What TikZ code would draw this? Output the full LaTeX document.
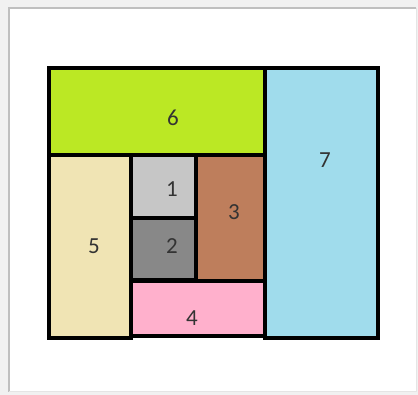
\documentclass[tikz,border=0pt]{standalone}
\usepackage{fontspec}
\setmainfont{Carlito}
\usepackage{tikz}
\definecolor{pgreen}{HTML}{BBE824}
\definecolor{pblue}{HTML}{A0DCEC}
\definecolor{psand}{HTML}{F0E4B4}
\definecolor{plight}{HTML}{C6C6C6}
\definecolor{pgrey}{HTML}{888888}
\definecolor{pbrown}{HTML}{BE7E5C}
\definecolor{ppink}{HTML}{FFB0CC}
\definecolor{pback}{HTML}{F1F1F1}
\tikzset{
  blk/.style={draw=black,line width=4pt,rectangle,anchor=north west,
              inner sep=0pt,outer sep=0pt},
  num/.style={font=\fontsize{23}{24}\selectfont,text=black!80,inner sep=0pt},
}
\begin{document}
\begin{tikzpicture}[x=1pt,y=-1pt]
  \useasboundingbox (0,0) rectangle (418,395);
  % page and card
  \fill[pback] (0,0) rectangle (418,395);
  \fill[white] (9,8) rectangle (416,392);
  \draw[black!25,line width=1.5pt] (9,392) -- (9,8) -- (416,8);
  \draw[black!10,line width=1pt] (416,8) -- (416,392) -- (9,392);
  % blocks
  \node[blk,fill=pgreen,minimum width=216pt,minimum height=87pt] (b6) at (49,68) {};
  \node[blk,fill=pblue,minimum width=113pt,minimum height=270pt] (b7) at (265,68) {};
  \node[blk,fill=psand,minimum width=82pt,minimum height=183pt] (b5) at (49,155) {};
  \node[blk,fill=plight,minimum width=65pt,minimum height=63pt] (b1) at (131,155) {};
  \node[blk,fill=pgrey,minimum width=65pt,minimum height=62pt] (b2) at (131,218) {};
  \node[blk,fill=pbrown,minimum width=69pt,minimum height=126pt] (b3) at (196,155) {};
  \node[blk,fill=ppink,minimum width=134pt,minimum height=55pt] (b4) at (131,281) {};
  % labels
  \node[num] (t6) at (173,118) {6};
  \node[num] (t7) at (325,160) {7};
  \node[num] (t1) at (172,189) {1};
  \node[num] (t2) at (172,246) {2};
  \node[num] (t3) at (234,212) {3};
  \node[num] (t5) at (94,246) {5};
  \node[num] (t4) at (192,318) {4};
\end{tikzpicture}
\end{document}
